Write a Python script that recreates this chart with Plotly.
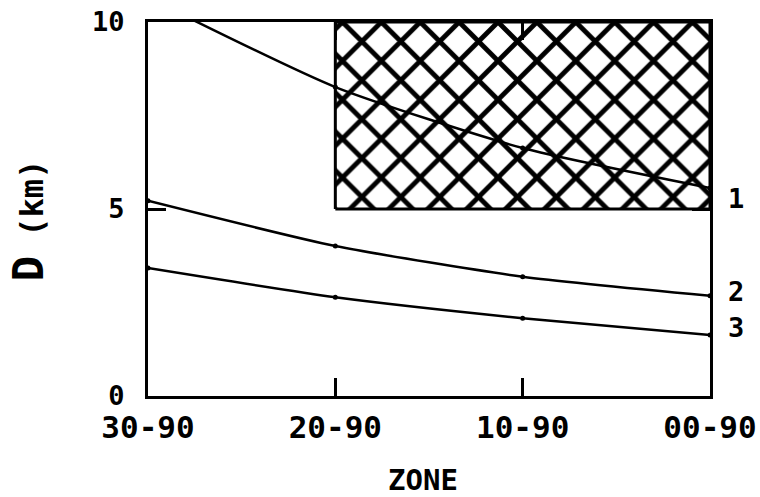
import plotly.graph_objects as go

zones = ["30-90", "20-90", "10-90", "00-90"]
zone_pos = [0, 1, 2, 3]
curve1 = [10.65, 8.26, 6.63, 5.56]
curve2 = [5.22, 4.01, 3.19, 2.68]
curve3 = [3.42, 2.64, 2.08, 1.63]
curve_labels = ["1", "2", "3"]
label_yshift = [-10, 4, 8]
hatch_x = [1, 3, 3, 1, 1]
hatch_y = [5, 5, 10, 10, 5]
y_ticks = [0, 5, 10]

FONT = "DejaVu Sans Mono"

fig = go.Figure()

fig.add_trace(go.Scatter(
    x=hatch_x, y=hatch_y, mode="lines", fill="toself",
    line=dict(color="black", width=3),
    fillpattern=dict(shape="x", size=27.5, solidity=0.32,
                     fgcolor="black", bgcolor="white", fillmode="replace"),
    fillcolor="white", showlegend=False, hoverinfo="skip"))

for ys in (curve1, curve2, curve3):
    fig.add_trace(go.Scatter(
        x=zone_pos, y=ys, mode="lines+markers",
        line=dict(color="black", width=2.5, shape="spline", smoothing=0.6),
        marker=dict(color="black", size=5),
        showlegend=False, cliponaxis=True))

for lab, ys, dy in zip(curve_labels, (curve1, curve2, curve3), label_yshift):
    fig.add_annotation(x=zone_pos[-1], y=ys[-1], text=lab, showarrow=False,
                       xanchor="left", yanchor="middle", xshift=16, yshift=dy,
                       font=dict(family=FONT, size=27, color="black", weight="bold"))

fig.add_annotation(xref="paper", yref="paper", x=-0.2135, y=0.47,
                   text="<span style='font-size:42px'>D</span> (km)",
                   textangle=-90, showarrow=False, xanchor="center", yanchor="middle",
                   font=dict(family=FONT, size=32, color="black", weight="bold"))
fig.add_annotation(xref="paper", yref="paper", x=0.489, y=-0.225,
                   text="ZONE", showarrow=False, xanchor="center", yanchor="middle",
                   font=dict(family=FONT, size=29, color="black", weight="bold"))

axis_common = dict(showline=True, linewidth=3, linecolor="black", mirror="ticks",
                   ticks="inside", ticklen=18, tickwidth=2.5, tickcolor="black",
                   showgrid=False, zeroline=False)

fig.update_xaxes(range=[0, 3], tickvals=zone_pos, ticktext=zones,
                 tickfont=dict(family=FONT, size=31, color="black", weight="bold"),
                 ticklabelstandoff=2, **axis_common)
fig.update_yaxes(range=[0, 10], tickvals=y_ticks,
                 tickfont=dict(family=FONT, size=27, color="black", weight="bold"),
                 ticklabelstandoff=15, **axis_common)

fig.update_layout(width=760, height=497, plot_bgcolor="white", paper_bgcolor="white",
                  margin=dict(l=148, r=50, t=22, b=101, autoexpand=False))

fig.write_html("out.html", config={"displayModeBar": False},
               post_script="document.body.style.margin='0';")
